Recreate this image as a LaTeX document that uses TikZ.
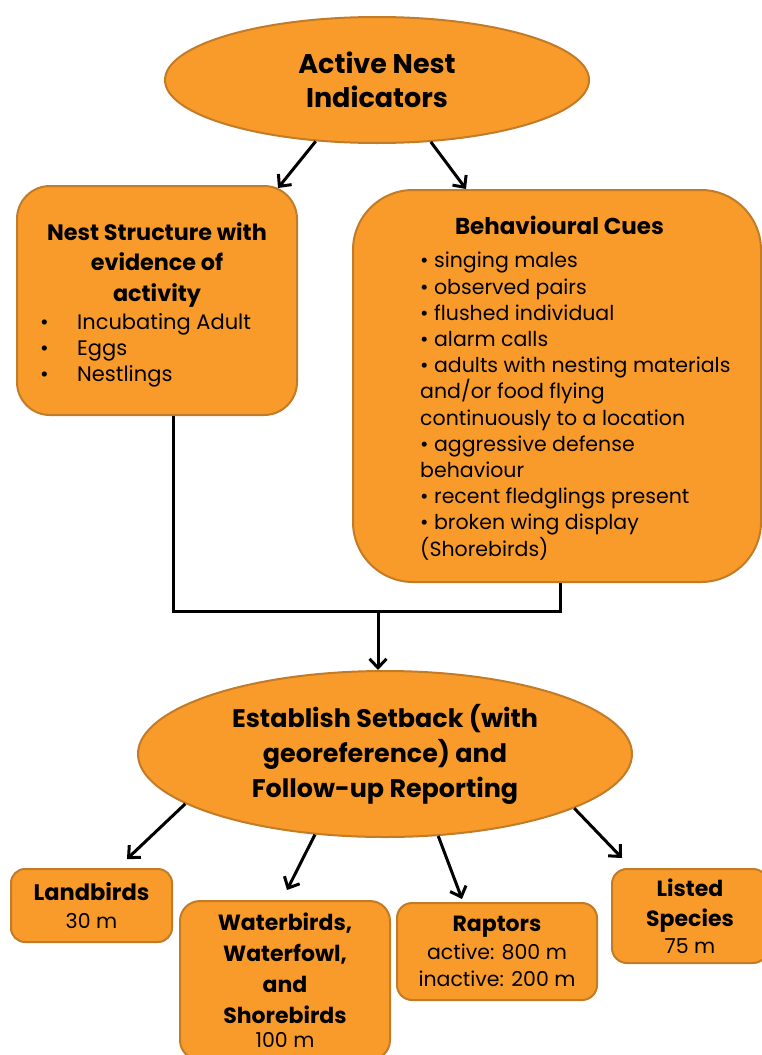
\documentclass[tikz,border=0pt]{standalone}
\usepackage{fontspec}
\setmainfont{Poppins}
\usetikzlibrary{shapes.geometric,arrows.meta,calc}
\definecolor{fillor}{HTML}{F99B2A}
\definecolor{edgeor}{HTML}{C27B26}
\newcommand{\srg}{\fontsize{20.5}{27}\selectfont\mdseries}
\begin{document}
\begin{tikzpicture}[x=1pt,y=-1pt,
  shapebox/.style={draw=edgeor,fill=fillor,line width=2pt},
  ell/.style={shapebox,ellipse,inner sep=0pt},
  rbox/.style={shapebox,rectangle,inner sep=0pt},
  conn/.style={line width=3pt,black},
  arr/.style={conn,-{Straight Barb[length=9pt,width=17pt]}},
  boxtitle/.style={font=\fontsize{22.3}{30.5}\selectfont\bfseries,align=center},
  bodytext/.style={align=left,inner sep=0pt},
  smalltext/.style={align=center,inner sep=0pt}
]
\useasboundingbox (0,0) rectangle (762,1055);

% top ellipse
\node[ell,font=\fontsize{27}{34}\selectfont\bfseries,align=center,minimum width=424pt,minimum height=126pt] (top) at (377,80) {Active Nest\\Indicators};

% left box
\node[rbox,rounded corners=33pt,minimum width=280pt,minimum height=229pt] (nest) at (157,300.5) {};
\node[boxtitle] (nesttitle) at (157,265) {Nest Structure with\\evidence of\\activity};
\node[bodytext,font=\fontsize{21}{26}\selectfont,anchor=north west] (nestlist) at (40,313) {%
\makebox[37pt][l]{\textbullet}Incubating Adult\\
\makebox[37pt][l]{\textbullet}Eggs\\
\makebox[37pt][l]{\textbullet}Nestlings};

% right box
\node[rbox,rounded corners=60pt,minimum width=408pt,minimum height=392pt] (beh) at (557,386) {};
\node[font=\fontsize{23}{30}\selectfont\bfseries] (behtitle) at (559.5,225.5) {Behavioural Cues};
\node[bodytext,font=\fontsize{20.5}{26.2}\selectfont,anchor=north west] (behlist) at (420,252) {%
\textbullet\ singing males\\
\textbullet\ observed pairs\\
\textbullet\ flushed individual\\
\textbullet\ alarm calls\\
\textbullet\ adults with nesting materials\\
and/or food flying\\
continuously to a location\\
\textbullet\ aggressive defense\\
behaviour\\
\textbullet\ recent fledglings present\\
\textbullet\ broken wing display\\
(Shorebirds)};

% bottom ellipse
\node[ell,font=\fontsize{25.4}{35}\selectfont\bfseries,align=center,minimum width=494pt,minimum height=166pt] (setback) at (385,754) {Establish Setback (with\\georeference) and\\Follow-up Reporting};

% small boxes
\node[rbox,rounded corners=14pt,minimum width=161pt,minimum height=73pt,smalltext,font=\fontsize{22.5}{28}\selectfont\bfseries] (land) at (91.5,905.5)
  {Landbirds\\{\srg 30 m}};
\node[rbox,rounded corners=20pt,minimum width=210pt,minimum height=159pt,smalltext,font=\fontsize{22}{30.7}\selectfont\bfseries] (water) at (285,980.5)
  {Waterbirds,\\Waterfowl,\\and\\Shorebirds\\[-6pt]{\srg 100 m}};
\node[rbox,rounded corners=15pt,minimum width=200pt,minimum height=97pt,smalltext,font=\fontsize{22}{27.5}\selectfont\bfseries] (rap) at (497,951.5)
  {Raptors\\{\srg active: 800 m}\\{\srg inactive: 200 m}};
\node[rbox,rounded corners=15pt,minimum width=156pt,minimum height=94pt,smalltext,font=\fontsize{22}{30}\selectfont\bfseries] (list) at (690,916)
  {Listed\\Species\\[-3pt]{\srg 75 m}};

% connectors
\draw[arr] (top.225.7) -- ($(nest.north east)+(-20,3)$);
\draw[arr] (top.-49) -- ($(beh.north west)+(114,0)$);
\coordinate (join) at (378,611);
\draw[conn] ($(nest.south)+(16,0)$) |- (join) -| ($(beh.south)+(3,0)$);
\draw[arr] (join) -- (join |- setback.north);
\draw[arr] (setback.194.7) -- ($(land.north)+(35.5,-9)$);
\draw[arr] (setback.229.3) -- ($(water.north)+(2,-10)$);
\draw[arr] (setback.-57.9) -- ($(rap.north)+(-35,-3)$);
\draw[arr] (setback.-16.8) -- ($(list.north)+(-68,-10)$);
\end{tikzpicture}
\end{document}
